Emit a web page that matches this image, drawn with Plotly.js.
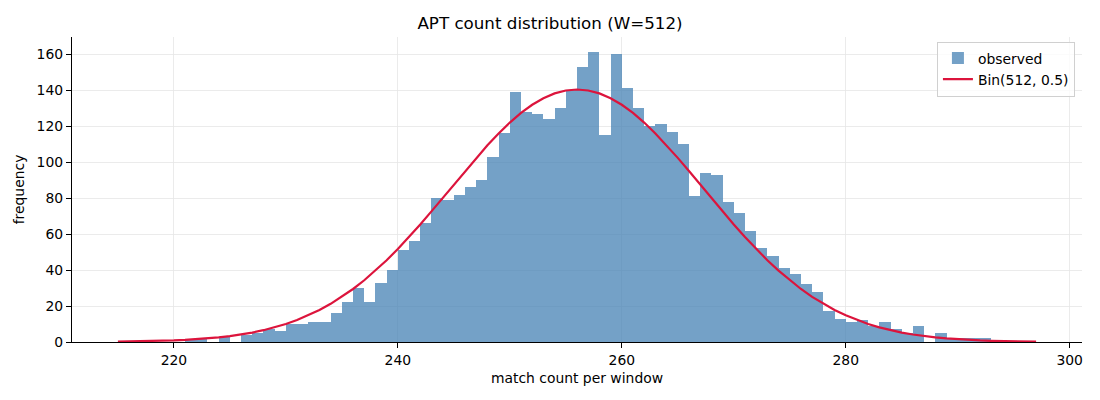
<!DOCTYPE html>
<html>
<head>
<meta charset="utf-8">
<script src="https://cdn.plot.ly/plotly-3.0.1.min.js"></script>
<style>
  html, body { margin: 0; padding: 0; background: #fff; }
  #chart { width: 1100px; height: 400px; }
</style>
</head>
<body>
<div id="chart"></div>
<script>
// Histogram bins (left edge of each unit-wide bin) and observed counts
const binStarts = [221, 222, 223, 224, 225, 226, 227, 228, 229,
    230, 231, 232, 233, 234, 235, 236, 237, 238, 239,
    240, 241, 242, 243, 244, 245, 246, 247, 248, 249,
    250, 251, 252, 253, 254, 255, 256, 257, 258, 259,
    260, 261, 262, 263, 264, 265, 266, 267, 268, 269,
    270, 271, 272, 273, 274, 275, 276, 277, 278, 279,
    280, 281, 282, 283, 284, 285, 286, 287, 288, 289,
    290, 291, 292];
const observedCounts = [1, 2, 0, 3, 0, 4, 5, 7, 6,
    10, 10, 11, 11, 16, 22, 30, 22, 33, 40,
    51, 56, 66, 80, 79, 82, 86, 90, 103, 116,
    139, 128, 127, 124, 130, 140, 153, 161, 115, 160,
    141, 130, 120, 121, 117, 110, 81, 94, 93, 78,
    72, 62, 52, 48, 41, 38, 32, 28, 17, 13,
    11, 12, 9, 11, 7, 5, 9, 0, 5, 2,
    2, 2, 2];

// Reference binomial model
const windowSize = 512;
const matchProb = 0.5;
const curveStart = 215;
const curveEnd = 297;

const xTicks = [220, 240, 260, 280, 300];
const yTicks = [0, 20, 40, 60, 80, 100, 120, 140, 160];

// Binomial pmf scaled by the number of observed windows
function binomialPmf(n, k, p) {
    let logC = 0;
    for (let i = 1; i <= k; i++) {
        logC += Math.log(n - k + i) - Math.log(i);
    }
    return Math.exp(logC + k * Math.log(p) + (n - k) * Math.log(1 - p));
}

const totalWindows = observedCounts.reduce((a, b) => a + b, 0);
let curveX = [];
let curveY = [];
for (let k = curveStart; k <= curveEnd; k++) {
    curveX.push(k);
    curveY.push(totalWindows * binomialPmf(windowSize, k, matchProb));
}

const font = {family: 'DejaVu Sans, sans-serif', size: 13.9, color: '#000'};

let barTrace = {
    type: 'bar',
    x: binStarts,
    y: observedCounts,
    width: 1,
    offset: 0,
    name: 'observed',
    marker: {color: 'rgba(70,130,180,0.75)', line: {width: 0}},
    hoverinfo: 'x+y'
};

let lineTrace = {
    type: 'scatter',
    mode: 'lines',
    x: curveX,
    y: curveY,
    name: 'Bin(512, 0.5)',
    line: {color: 'crimson', width: 2.2}
};

let layout = {
    width: 1100,
    height: 400,
    margin: {l: 72, r: 18, t: 37, b: 58},
    paper_bgcolor: '#fff',
    plot_bgcolor: '#fff',
    font: font,
    bargap: 0,
    showlegend: true,
    title: {
        text: 'APT count distribution (W=512)',
        font: {family: font.family, size: 16.7, color: '#000'},
        x: 0.5,
        xanchor: 'center',
        y: 1 - 23 / 400,
        yanchor: 'middle'
    },
    xaxis: {
        range: [210.9, 301.1],
        tickvals: xTicks,
        ticktext: xTicks.map(String),
        ticks: 'outside',
        ticklen: 5,
        tickwidth: 1,
        tickcolor: '#000',
        showline: true,
        linecolor: '#000',
        linewidth: 1.1,
        showgrid: true,
        gridcolor: '#e6e6e6',
        gridwidth: 0.8,
        zeroline: false,
        title: {text: 'match count per window', font: font, standoff: 6}
    },
    yaxis: {
        range: [0, 169.6],
        tickvals: yTicks,
        ticktext: yTicks.map(String),
        ticks: 'outside',
        ticklen: 5,
        tickwidth: 1,
        tickcolor: '#000',
        showline: true,
        linecolor: '#000',
        linewidth: 1.1,
        showgrid: true,
        gridcolor: '#e6e6e6',
        gridwidth: 0.8,
        zeroline: false,
        title: {text: 'frequency', font: font, standoff: 8}
    },
    legend: {
        x: 0.993,
        xanchor: 'right',
        y: 0.985,
        yanchor: 'top',
        bgcolor: 'rgba(255,255,255,0.8)',
        bordercolor: '#d0d0d0',
        borderwidth: 1,
        font: font,
        tracegroupgap: 0
    }
};

Plotly.newPlot('chart', [barTrace, lineTrace], layout, {displayModeBar: false, staticPlot: true});
</script>
</body>
</html>
